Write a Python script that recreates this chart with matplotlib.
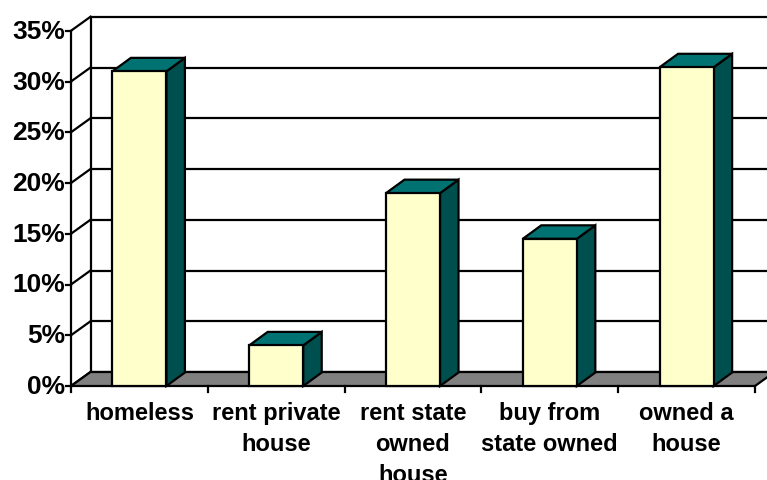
import matplotlib.pyplot as plt
from matplotlib.patches import Polygon

categories = ["homeless", "rent private\nhouse", "rent state\nowned\nhouse",
              "buy from\nstate owned", "owned a\nhouse"]
values = [31.0, 4.0, 19.0, 14.5, 31.4]
y_ticks = [0, 5, 10, 15, 20, 25, 30, 35]

FRONT = "#FFFFCC"
TOP = "#007272"
SIDE = "#004F4F"
FLOOR = "#808080"

# pixel scale of the front plane
PX_X = 136.8   # px per category
PX_Y = 10.15   # px per percent
W, H = 767, 481
X0, Y0 = 71, 387  # front-plane origin in pixels

# oblique depth offsets (converted to data units)
WALL_DX, WALL_DY = 19.5 / PX_X, 14 / PX_Y
BAR_DX, BAR_DY = 18.5 / PX_X, 13.5 / PX_Y
BAR_W = 0.395
YMAX = 35

fig = plt.figure(figsize=(7.67, 4.81), dpi=100)
ax = fig.add_axes([0, 0, 1, 1])
ax.set_xlim(-X0 / PX_X, (W - X0) / PX_X)
ax.set_ylim(-(H - Y0) / PX_Y, Y0 / PX_Y)
ax.axis("off")

n = len(categories)
lw = 1.6

# back wall and gridlines
ax.add_patch(Polygon([(WALL_DX, WALL_DY), (n + 1, WALL_DY), (n + 1, YMAX + WALL_DY),
                      (WALL_DX, YMAX + WALL_DY)], closed=True, facecolor="white",
                     edgecolor="none", zorder=1))
for t in y_ticks:
    ax.plot([WALL_DX, n + 1], [t + WALL_DY, t + WALL_DY], color="black", lw=lw, zorder=2,
            clip_on=False)
    # side wall line
    ax.plot([0, WALL_DX], [t, t + WALL_DY], color="black", lw=lw, zorder=2)
    # tick mark
    ax.plot([-5 / PX_X, 0], [t, t], color="black", lw=lw, zorder=2)
    ax.text(-6 / PX_X, t, f"{t}%", ha="right", va="center", fontsize=19,
            fontweight="bold", family="Liberation Sans")
ax.plot([WALL_DX, WALL_DX], [WALL_DY, YMAX + WALL_DY], color="black", lw=lw, zorder=2)
ax.plot([0, 0], [0, YMAX], color="black", lw=lw, zorder=2)

# floor
ax.add_patch(Polygon([(0, 0), (n, 0), (n + WALL_DX, WALL_DY), (WALL_DX, WALL_DY)],
                     closed=True, facecolor=FLOOR, edgecolor="black", lw=lw,
                     joinstyle="miter", zorder=3))
for i in range(n + 1):
    ax.plot([i, i], [0, -6 / PX_Y], color="black", lw=lw, zorder=3)

# bars
for i, v in enumerate(values):
    x0 = i + 0.5 - BAR_W / 2
    x1 = x0 + BAR_W
    side = [(x1, 0), (x1 + BAR_DX, BAR_DY), (x1 + BAR_DX, v + BAR_DY), (x1, v)]
    top = [(x0, v), (x1, v), (x1 + BAR_DX, v + BAR_DY), (x0 + BAR_DX, v + BAR_DY)]
    front = [(x0, 0), (x1, 0), (x1, v), (x0, v)]
    for pts, fc in ((side, SIDE), (top, TOP), (front, FRONT)):
        ax.add_patch(Polygon(pts, closed=True, facecolor=fc, edgecolor="black",
                             lw=lw, joinstyle="miter", zorder=4))
    ax.text(i + 0.5, -15.5 / PX_Y, categories[i], ha="center", va="top",
            fontsize=17, fontweight="bold", family="Liberation Sans",
            linespacing=1.42)

fig.savefig("out.png", dpi=100)
